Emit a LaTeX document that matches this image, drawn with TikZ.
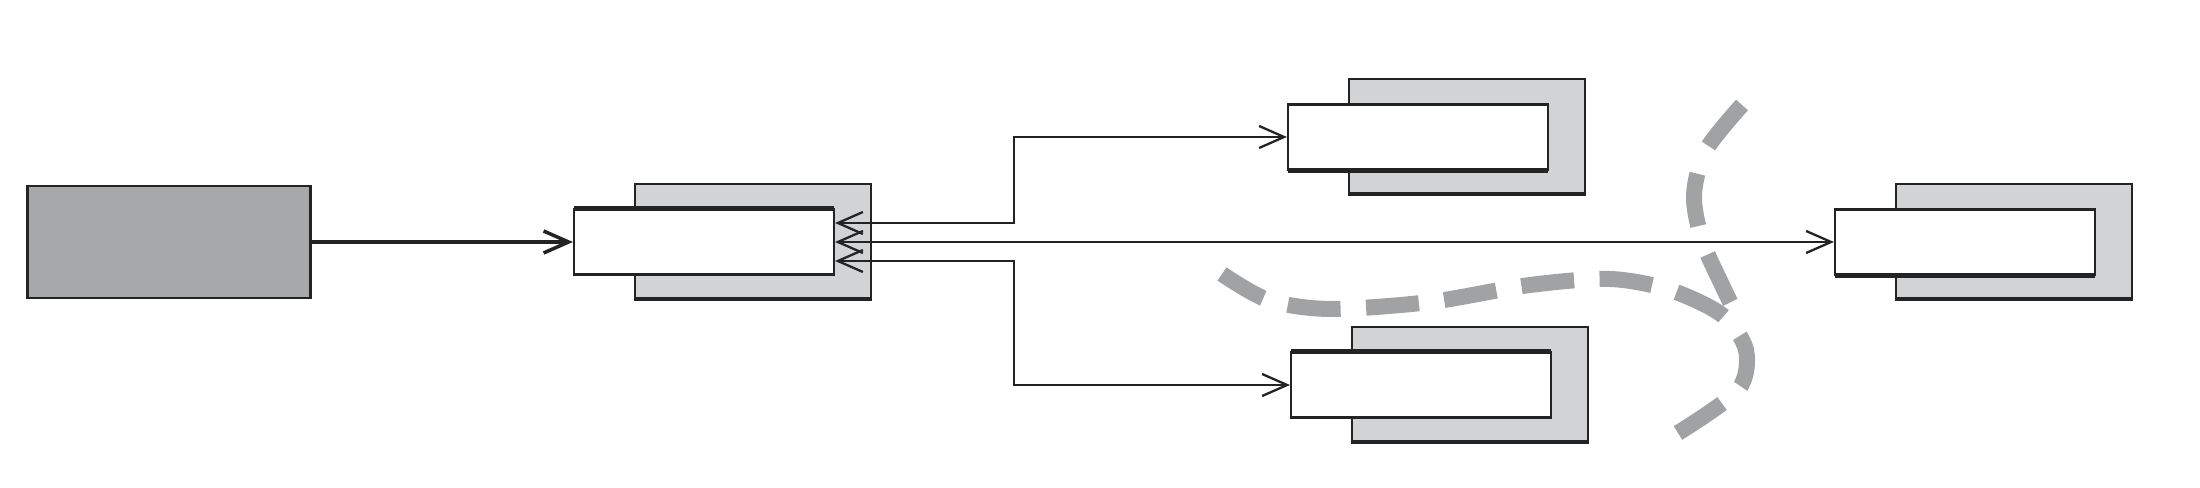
\documentclass[tikz,border=0pt]{standalone}
\usepackage{xcolor}
\usepackage{tikz}
\usetikzlibrary{arrows.meta}
\usetikzlibrary{positioning}
\definecolor{darkfill}{HTML}{A7A8AA}
\definecolor{lightfill}{HTML}{D2D3D5}
\definecolor{cutline}{HTML}{A1A2A4}
\definecolor{ink}{HTML}{232323}
\tikzset{source/.style ={draw=ink, fill=darkfill, line width=0.6pt, minimum width=28.3mm, minimum height=11.2mm, inner sep=0pt}}
\tikzset{backbox/.style ={draw=ink, fill=lightfill, line width=0.6pt, minimum width=23.6mm, minimum height=11.4mm, inner sep=0pt}}
\tikzset{frontbox/.style ={draw=ink, fill=white, line width=0.6pt, minimum width=26mm, minimum height=6.5mm, inner sep=0pt}}
\tikzset{link/.style ={draw=ink, line width=0.65pt, {Straight Barb[length=2.5mm,width=2.2mm]}-{Straight Barb[length=2.5mm,width=2.2mm]}}}
\tikzset{feed/.style ={draw=ink, line width=1pt, -{Straight Barb[length=2.5mm,width=2.2mm]}}}
\tikzset{edge/.style ={draw=ink, line width=1.2pt}}
\tikzset{cut/.style ={draw=cutline, line width=1.6mm, dash pattern=on 5.3mm off 3mm}}

\begin{document}
\begin{tikzpicture}[x=0.1mm,y=-0.1mm]
\useasboundingbox (0,0) rectangle (2200,488);
\node [source] (src) at (169,242) {};
\foreach \n/\x/\y/\e in {mid/753/241/north, top/1467/136/south, bot/1470/384/north, far/2014/241/south}
{
\node [backbox] (\n back) at (\x,\y) {};
\node [frontbox] (\n) at (\x-49,\y+1) {};
\draw [edge] (\n back.south west) -- (\n back.south east);
\draw [edge] (\n.\e) ++(-130,0) -- ++(260,0);
}
\draw [feed] (src.east) -- (mid.west);
\draw [link] ([yshift=1.9mm]mid.east) -- ++(179,0) |- (top.west);
\draw [link] (mid.east) -- (far.west);
\draw [link] ([yshift=-1.9mm]mid.east) -- ++(179,0) |- (bot.west);
% cut lines
\draw [cut, dash pattern=on 5.3mm off 2.55mm] plot [smooth] coordinates {(1678,433) (1738,390) (1746,350) (1722,315) (1670,290) (1610,279) (1530,285) (1430,302) (1330,309) (1268,300) (1222,274)};
\draw [cut] plot [smooth] coordinates {(1742,105) (1706,150) (1694,195) (1702,240) (1722,285) (1738,318)};
\end{tikzpicture}
\end{document}
